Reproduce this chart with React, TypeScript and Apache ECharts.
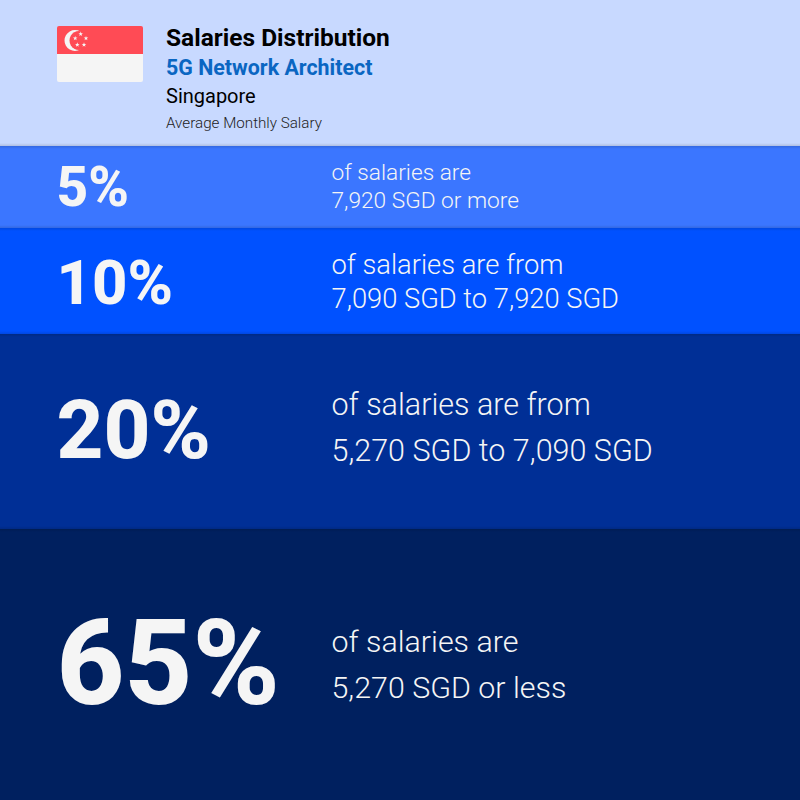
import React, { useEffect, useRef } from "react";
import * as echarts from "echarts";

const categories = ["Distribution"];
const bandNames = ["65%", "20%", "10%", "5%", "Header"];
const bandHeights = [271, 195, 106, 82, 146];
const bandColors = ["#00205f", "#002f96", "#0051ff", "#3b76ff", "#c8d9ff"];
const percentLabels = ["5%", "10%", "20%", "65%"];
const descriptionLines = [
  ["of salaries are", "7,920 SGD or more"],
  ["of salaries are from", "7,090 SGD to 7,920 SGD"],
  ["of salaries are from", "5,270 SGD to 7,090 SGD"],
  ["of salaries are", "5,270 SGD or less"],
];
const titleText = "Salaries Distribution";
const jobText = "5G Network Architect";
const countryText = "Singapore";
const noteText = "Average Monthly Salary";

const FONT = "Roboto";

function star(cx: number, cy: number, R: number) {
  const pts: number[][] = [];
  for (let i = 0; i < 10; i++) {
    const r = i % 2 === 0 ? R : R * 0.42;
    const a = -Math.PI / 2 + (i * Math.PI) / 5;
    pts.push([cx + r * Math.cos(a), cy + r * Math.sin(a)]);
  }
  return { type: "polygon", shape: { points: pts }, style: { fill: "#f5f5f5" } };
}

function txt(x: number, y: number, text: string, size: number, weight: number | string, fill: string) {
  return {
    type: "text",
    x,
    y,
    style: { text, fontFamily: FONT, fontSize: size, fontWeight: weight, fill, align: "left", verticalAlign: "middle" },
  };
}

function boundary(y: number) {
  return {
    type: "rect",
    shape: { x: 0, y: y - 3, width: 800, height: 6 },
    style: {
      fill: new echarts.graphic.LinearGradient(0, 0, 0, 1, [
        { offset: 0, color: "rgba(0,0,0,0)" },
        { offset: 0.5, color: "rgba(0,0,0,0.12)" },
        { offset: 1, color: "rgba(0,0,0,0)" },
      ]),
    },
  };
}

export default function App() {
  const ref = useRef<HTMLDivElement>(null);
  useEffect(() => {
    const chart = echarts.init(ref.current!, undefined, { renderer: "svg", width: 800, height: 800 });
    const percentStyle = [
      { y: 187, size: 55 },
      { y: 283, size: 61.5 },
      { y: 430, size: 81.5 },
      { y: 664, size: 118 },
    ];
    const lineStyle = [
      { y: [172, 200], size: 22.7 },
      { y: [265, 299], size: 27.3 },
      { y: [404, 450], size: 30.5 },
      { y: [641, 687], size: 30.4 },
    ];
    const elements: any[] = [
      boundary(146),
      boundary(228),
      boundary(334),
      boundary(529),
      { type: "rect", shape: { x: 57, y: 26, width: 86, height: 28, r: [2, 2, 0, 0] }, style: { fill: "#ff4b55" } },
      { type: "rect", shape: { x: 57, y: 54, width: 86, height: 28, r: [0, 0, 2, 2] }, style: { fill: "#f5f5f5" } },
      { type: "circle", shape: { cx: 75, cy: 40.5, r: 10.5 }, style: { fill: "#f5f5f5" } },
      { type: "circle", shape: { cx: 79, cy: 40.5, r: 9.5 }, style: { fill: "#ff4b55" } },
      star(80.7, 34, 2.4),
      star(75.2, 38.3, 2.4),
      star(86, 38.3, 2.4),
      star(77.3, 44.7, 2.4),
      star(84, 44.7, 2.4),
      txt(166, 37, titleText, 24.5, 700, "#000000"),
      txt(166, 67, jobText, 21.4, 700, "#0a66c2"),
      txt(166, 96, countryText, 20, 400, "#000000"),
      txt(166, 123, noteText, 15.2, 300, "#222222"),
    ];
    percentLabels.forEach((p, i) => {
      elements.push(txt(56.5, percentStyle[i].y, p, percentStyle[i].size, 800, "#f5f5f5"));
      descriptionLines[i].forEach((line, j) => {
        elements.push(txt(331.5, lineStyle[i].y[j], line, lineStyle[i].size, 300, "#f5f5f5"));
      });
    });
    elements.forEach((el) => { el.z = 10; });
    chart.setOption({
      animation: false,
      grid: { left: 0, right: 0, top: 0, bottom: 0 },
      xAxis: { type: "category", data: categories, show: false },
      yAxis: { type: "value", min: 0, max: 800, show: false },
      series: bandNames.map((name, i) => ({
        name,
        type: "bar",
        stack: "all",
        barWidth: "100%",
        silent: true,
        data: [bandHeights[i]],
        itemStyle: { color: bandColors[i] },
      })),
      graphic: { elements },
    });
    return () => chart.dispose();
  }, []);
  return <div ref={ref} style={{ position: "absolute", left: 0, top: 0, width: 800, height: 800 }} />;
}
